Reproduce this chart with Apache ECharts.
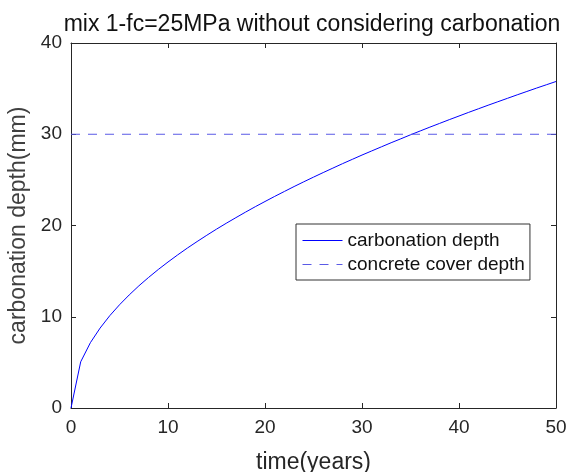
<!DOCTYPE html>
<html><head><meta charset="utf-8">
<script src="https://cdn.jsdelivr.net/npm/echarts@6/dist/echarts.min.js"></script>
<style>html,body{margin:0;padding:0;background:#fff}#c{width:569px;height:472px}</style>
</head><body><div id="c"></div>
<script>
const years = [0,1,2,3,4,5,6,7,8,9,10,11,12,13,14,15,16,17,18,19,20,21,22,23,24,25,26,27,28,29,30,31,32,33,34,35,36,37,38,39,40,41,42,43,44,45,46,47,48,49,50];
const carbonationDepth = [0,5.06,7.16,8.76,10.12,11.31,12.39,13.39,14.31,15.18,16.00,16.78,17.53,18.24,18.93,19.60,20.24,20.86,21.47,22.06,22.63,23.19,23.73,24.27,24.79,25.30,25.80,26.29,26.78,27.25,27.72,28.17,28.62,29.07,29.50,29.94,30.36,30.78,31.19,31.60,32.00,32.40,32.79,33.18,33.56,33.94,34.32,34.69,35.06,35.42,35.78];
const coverYears = [0,50];
const coverDepth = [30,30];
const xTicks = [0,10,20,30,40,50];
const yTicks = [0,10,20,30,40];

const font = 'Liberation Sans, Arial, sans-serif';
const axCol = '#262626';
const chart = echarts.init(document.getElementById('c'));
function axis(extra){
  return Object.assign({
    type:'value', min:0, interval:10,
    axisLine:{show:true,onZero:false,lineStyle:{color:axCol,width:1}},
    axisTick:{show:true,inside:true,length:5,lineStyle:{color:axCol}},
    splitLine:{show:false}
  }, extra);
}
chart.setOption({
  animation:false,
  title:{text:'mix 1-fc=25MPa without considering carbonation',left:307,top:8,textAlign:'center',
    textStyle:{fontFamily:font,fontSize:23,fontWeight:'normal',color:'#111'}},
  grid:{left:71,right:13,top:43,bottom:64,containLabel:false,outerBoundsMode:'none'},
  legend:{orient:'vertical',left:296,top:224,itemWidth:40,itemHeight:10,itemGap:5,
    padding:[7,5,6,6],borderColor:'#333',borderWidth:1,backgroundColor:'#fff',
    itemStyle:{opacity:0},lineStyle:{width:1},
    textStyle:{fontFamily:font,fontSize:19,color:'#111'},
    data:['carbonation depth','concrete cover depth']},
  xAxis:[axis({max:50,position:'bottom',
      name:'time(years)',nameLocation:'middle',nameGap:43,
      nameTextStyle:{fontFamily:font,fontSize:23,color:axCol},
      axisLabel:{fontFamily:font,fontSize:19,color:axCol,margin:10,
        formatter:v=>xTicks.includes(v)?String(v):''}}),
    axis({max:50,position:'top',axisLabel:{show:false}})],
  yAxis:[axis({max:40,position:'left',
      name:'carbonation depth(mm)',nameLocation:'middle',nameGap:36,
      nameTextStyle:{fontFamily:font,fontSize:23,color:'#404040'},
      axisLabel:{fontFamily:font,fontSize:19,color:axCol,margin:9,
        formatter:v=>yTicks.includes(v)?String(v):''}}),
    axis({max:40,position:'right',axisLabel:{show:false}})],
  series:[
    {name:'carbonation depth',type:'line',showSymbol:false,symbol:'none',
      data:years.map((t,i)=>[t,carbonationDepth[i]]),
      lineStyle:{color:'#0000ff',width:1},itemStyle:{color:'#0000ff'}},
    {name:'concrete cover depth',type:'line',showSymbol:false,symbol:'none',
      data:coverYears.map((t,i)=>[t,coverDepth[i]]),
      lineStyle:{color:'#5a5ae6',width:1,type:[9,8]},itemStyle:{color:'#5a5ae6'}}
  ]
});
</script></body></html>
